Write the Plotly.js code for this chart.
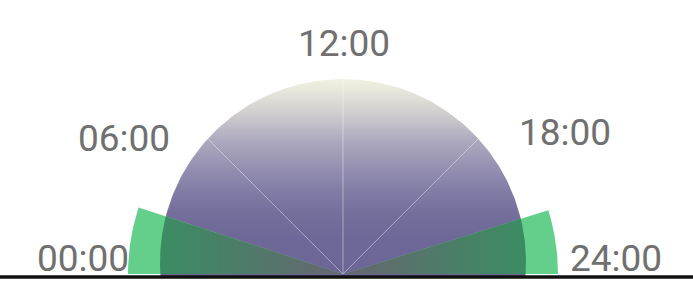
<!DOCTYPE html>
<html>
<head>
<meta charset="utf-8">
<script src="https://cdn.plot.ly/plotly-3.0.1.min.js"></script>
<style>html,body{margin:0;padding:0;background:#fff;}#chart{width:693px;height:288px;}</style>
</head>
<body>
<div id="chart"></div>
<script>
// ---- data ----
const tickHours = [0, 6, 12, 18, 24];
const tickLabels = ['00:00', '06:00', '12:00', '18:00', '24:00'];
const gridHours = [6, 12, 18];
const greenStart = [0, 21.7];
const greenEnd = [2.4, 24];

// ---- style constants ----
const DOME_CY = 12, DOME_R = 183, BASE_Y = -3.5;
const WEDGE_R = 215;
const LABEL_R = 240;
const labelShiftX = [-20, -49, 1, 52, 33];
const labelShiftY = [16, -34, -9, -28, 16];

function hourDeg(h) { return 180 - h * 180 / 24; }
function rad(d) { return d * Math.PI / 180; }
function domeRay(deg) {
  const s = Math.sin(rad(deg));
  return DOME_CY * s + Math.sqrt(DOME_CY * DOME_CY * s * s + DOME_R * DOME_R - DOME_CY * DOME_CY);
}

const traces = [];

// dome
const phi0 = Math.asin((BASE_Y - DOME_CY) / DOME_R) * 180 / Math.PI;
const dx = [], dy = [];
for (let i = 0; i <= 240; i++) {
  const p = rad(phi0 + (180 - 2 * phi0) * i / 240);
  dx.push(DOME_R * Math.cos(p));
  dy.push(DOME_CY + DOME_R * Math.sin(p));
}
traces.push({
  x: dx, y: dy, type: 'scatter', mode: 'lines', fill: 'toself',
  line: {width: 0, color: 'rgba(0,0,0,0)'},
  fillgradient: {
    type: 'vertical', start: BASE_Y, stop: DOME_CY + DOME_R,
    colorscale: [[0, '#6c6696'], [0.19, '#6e6898'], [0.32, '#746e9b'], [0.455, '#847fa7'],
                 [0.68, '#aba7be'], [0.84, '#d3d1d0'], [1, '#f2f2e2']]
  },
  hoverinfo: 'skip'
});

// grid lines
gridHours.forEach(h => {
  const d = hourDeg(h), r = domeRay(d);
  traces.push({
    x: [0, r * Math.cos(rad(d))], y: [0, r * Math.sin(rad(d))],
    type: 'scatter', mode: 'lines',
    line: {width: 1, color: 'rgba(255,255,255,0.4)'}, hoverinfo: 'skip'
  });
});

// green wedges
greenStart.forEach((hs, i) => {
  const he = greenEnd[i];
  const a = Math.min(hourDeg(hs), hourDeg(he)), b = Math.max(hourDeg(hs), hourDeg(he));
  const ox = [0], oy = [0], ix = [0], iy = [0];
  for (let k = 0; k <= 60; k++) {
    const d = a + (b - a) * k / 60;
    ox.push(WEDGE_R * Math.cos(rad(d))); oy.push(WEDGE_R * Math.sin(rad(d)));
    const r = domeRay(d);
    ix.push(r * Math.cos(rad(d))); iy.push(r * Math.sin(rad(d)));
  }
  ox.push(0); oy.push(0); ix.push(0); iy.push(0);
  traces.push({
    x: ox, y: oy, type: 'scatter', mode: 'lines', fill: 'toself',
    fillcolor: '#64cf8b', line: {width: 0, color: 'rgba(0,0,0,0)'}, hoverinfo: 'skip'
  });
  const leftSide = (a + b) / 2 > 90;
  traces.push({
    x: ix, y: iy, type: 'scatter', mode: 'lines', fill: 'toself',
    line: {width: 0, color: 'rgba(0,0,0,0)'},
    fillgradient: {
      type: 'horizontal',
      colorscale: leftSide
        ? [[0, '#3b8c62'], [0.45, '#4d7c68'], [1, '#6a6472']]
        : [[0, '#6a6472'], [0.55, '#4d7c68'], [1, '#3b8c62']]
    },
    hoverinfo: 'skip'
  });
});

// labels
const annotations = tickHours.map((h, i) => {
  const d = hourDeg(h);
  return {
    x: LABEL_R * Math.cos(rad(d)), y: LABEL_R * Math.sin(rad(d)),
    xref: 'x', yref: 'y', text: tickLabels[i], showarrow: false,
    xanchor: 'center', yanchor: 'middle',
    xshift: labelShiftX[i], yshift: labelShiftY[i],
    font: {family: 'Roboto, sans-serif', size: 37, color: '#707070'}
  };
});

const layout = {
  width: 693, height: 288,
  margin: {l: 0, r: 0, t: 0, b: 0},
  paper_bgcolor: '#ffffff', plot_bgcolor: '#ffffff',
  showlegend: false,
  xaxis: {range: [-343, 350], visible: false, fixedrange: true},
  yaxis: {range: [-14, 274], visible: false, fixedrange: true},
  annotations: annotations,
  shapes: [{
    type: 'line', xref: 'paper', yref: 'y', x0: 0, x1: 1, y0: -3, y1: -3,
    line: {color: '#111111', width: 3.5}
  }],
  hovermode: false
};

Plotly.newPlot('chart', traces, layout, {displayModeBar: false, staticPlot: true});
</script>
</body>
</html>
